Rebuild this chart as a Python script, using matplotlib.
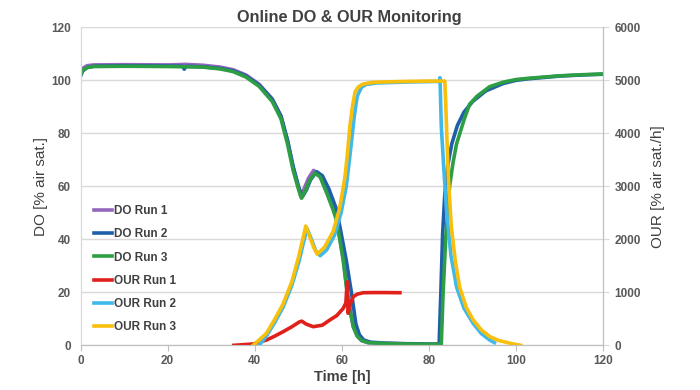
import matplotlib
matplotlib.use('Agg')
from matplotlib import pyplot as plt

plt.rcParams['font.family'] = ['Liberation Sans', 'DejaVu Sans']

# DO runs (left axis, % air sat.)
do3_t = [0, 0.5, 1.5, 3, 10, 20, 28, 32, 35, 38, 41, 44, 46, 47.5, 48.8, 50, 50.7, 51.5, 52.5,
         53.8, 55, 56.5, 58, 58.8, 60.3, 61.4, 62.6, 63.5, 64.5, 66, 70, 75, 80, 82.8, 83.2,
         83.8, 84.7, 85.5, 86.3, 88, 89.3, 91, 93.9, 97, 100, 103, 110, 115, 120]
do3_v = [102, 103.8, 104.8, 105.2, 105.3, 105.2, 105, 104.3, 103.3, 101.2, 97.7, 92, 85.5, 76,
         66, 59, 55.5, 58, 62, 65, 63.5, 57.5, 51, 47, 32, 17, 7, 3.5, 1.8, 1.0, 0.7, 0.5, 0.4,
         0.4, 19, 40, 60, 69, 76, 85, 91, 94, 97.6, 99.3, 100.3, 100.8, 101.7, 102.1, 102.4]

do2_t = [0, 0.5, 1.5, 3, 10, 20, 23.5, 23.8, 24.2, 28, 32, 35, 38, 41, 44, 46, 47.5, 48.8, 50,
         50.9, 51.8, 52.8, 54.2, 55.5, 57, 58.6, 59.5, 61, 62.2, 63.2, 64, 65, 66.5, 70, 75, 80,
         82.3, 82.7, 83.1, 83.6, 84.3, 85.2, 86.5, 88, 90, 93, 97, 100, 103, 110, 115, 120]
do2_v = [101.5, 103.5, 104.8, 105.3, 105.5, 105.4, 105.3, 104.2, 105.3, 105.1, 104.5, 103.6,
         101.6, 98.2, 92.8, 86.5, 77.5, 67.5, 60, 56, 58.5, 62.5, 65.5, 64, 59, 52, 45, 32, 19.6,
         8, 4, 2, 1.2, 0.8, 0.6, 0.5, 0.5, 20, 42, 57, 68, 76, 83, 88, 92, 96, 98.8, 100, 100.6,
         101.6, 102, 102.3]

do1_t = [0, 0.5, 1.5, 3, 10, 20, 24, 28, 32, 35, 38, 41, 44, 46, 47.5, 48.8, 50, 50.5, 51.3,
         52.3, 53.5, 55, 56.5, 58, 58.8, 60.3, 61.4, 62.6, 63.5, 64.5, 66, 70, 73.3]
do1_v = [102.5, 104.5, 105.5, 105.8, 105.9, 105.8, 106, 105.7, 105, 104, 102, 98.5, 93, 86.5,
         77, 67, 60, 56.5, 59, 63, 66, 64, 58, 51.5, 47.5, 32.5, 17.5, 7, 3.5, 1.8, 1.0, 0.7, 0.6]

# OUR runs (right axis, % air sat./h)
our1_t = [35.2, 39.6, 42.7, 44.5, 46.5, 48.5, 50.3, 50.8, 51.8, 53.4, 55.5, 57.2,
          58.8, 60.3, 60.9, 61.2, 61.3, 61.4, 62, 62.6, 63.5, 64.9, 67, 70, 73.3]
our1_v = [0, 25, 100, 170, 257, 350, 445, 455, 400, 351, 380, 477, 560, 698, 800, 1200,
          900, 604, 800, 917, 965, 992, 995, 995, 992]

our2_t = [41, 42.7, 44.5, 46.5, 48.5, 50.2, 51.2, 52, 53, 54, 55, 56.5, 58.3, 59.8, 61,
          62, 62.8, 63.5, 64.5, 65.5, 68, 72, 76, 80, 82.3, 82.5, 82.8, 83.4, 84, 85, 86.3,
          88, 90.1, 92, 93.9, 95]
our2_v = [0, 180, 420, 720, 1130, 1600, 1950, 2200, 2000, 1780, 1690, 1800, 2080, 2500, 3000,
          3700, 4300, 4700, 4870, 4920, 4950, 4960, 4970, 4975, 4980, 5050, 4125, 3300, 2550,
          1700, 1100, 700, 415, 220, 100, 50]

our3_t = [39.6, 41, 42.7, 44.5, 46.5, 48.5, 50, 51, 51.7, 52.6, 53.5, 54.3, 56, 58, 59.5,
          60.7, 61.3, 61.8, 62.4, 63, 63.8, 64.9, 67, 70, 75.6, 80, 83.6, 83.8, 84, 84.4, 85.1,
          86, 87, 88.5, 90.1, 92, 93.9, 96, 99.3, 101]
our3_v = [0, 100, 230, 480, 780, 1200, 1650, 2000, 2250, 2050, 1850, 1720, 1850, 2150, 2600,
          3180, 3650, 4120, 4500, 4780, 4880, 4930, 4960, 4970, 4980, 4985, 4985, 4600, 4125,
          3180, 2240, 1600, 1100, 720, 480, 290, 165, 90, 25, 0]

x_ticks = [0, 20, 40, 60, 80, 100, 120]
do_ticks = [0, 20, 40, 60, 80, 100, 120]
our_ticks = [0, 1000, 2000, 3000, 4000, 5000, 6000]

grey_txt = '#595959'
fig = plt.figure(figsize=(7, 3.9), dpi=100)
ax = fig.add_axes([0.115, 0.1146, 0.747, 0.8154])
ax2 = ax.twinx()

lw = 2.6
l1, = ax.plot(do1_t, do1_v, c='#9467bd', lw=lw, label='DO Run 1')
l2, = ax.plot(do2_t, do2_v, c='#1f5fa8', lw=lw, label='DO Run 2')
l3, = ax.plot(do3_t, do3_v, c='#2e9e44', lw=lw, label='DO Run 3')
l4, = ax2.plot(our1_t, our1_v, c='#e0201b', lw=lw, label='OUR Run 1')
l5, = ax2.plot(our2_t, our2_v, c='#40b8e8', lw=lw, label='OUR Run 2')
l6, = ax2.plot(our3_t, our3_v, c='#f8bf0c', lw=lw, label='OUR Run 3')

ax.set_xlim(0, 120)
ax.set_ylim(0, 120)
ax2.set_ylim(0, 6000)
ax.set_xticks(x_ticks)
ax.set_yticks(do_ticks)
ax2.set_yticks(our_ticks)
ax.grid(axis='y', color='#d9d9d9', lw=1)
ax.set_axisbelow(True)

for a in (ax, ax2):
    a.spines['top'].set_visible(False)
    a.spines['left'].set_color('#d9d9d9')
    a.spines['right'].set_color('#bfbfbf')
    a.spines['bottom'].set_color('#bfbfbf')
ax.tick_params(axis='x', length=4, color='#bfbfbf', pad=3)
ax.tick_params(axis='y', length=0, pad=7)
ax2.tick_params(axis='y', length=4, color='#d9d9d9', pad=4)
for lab in ax.get_xticklabels() + ax.get_yticklabels() + ax2.get_yticklabels():
    lab.set_fontweight('bold')
    lab.set_fontsize(8.5)
    lab.set_color(grey_txt)

ax.set_xlabel('Time [h]', fontsize=10.5, fontweight='bold', color='#404040', labelpad=2)
ax.set_ylabel('DO [% air sat.]', fontsize=11, color='#404040', labelpad=2)
ax2.set_ylabel('OUR [% air sat./h]', fontsize=11, color='#404040', labelpad=7)
fig.text(0.4986, 0.955, 'Online DO & OUR Monitoring', ha='center', va='center',
         fontsize=11.7, fontweight='bold', color='#404040')

leg = ax.legend(handles=[l1, l2, l3, l4, l5, l6], loc='upper left',
                bbox_to_anchor=(0.026, 0.44), frameon=False, borderpad=0,
                borderaxespad=0, handlelength=1.55, handletextpad=0.1,
                labelspacing=0.94, prop={'weight': 'bold', 'size': 8.5})
for t in leg.get_texts():
    t.set_color('#404040')

fig.savefig('out.png', dpi=100)
